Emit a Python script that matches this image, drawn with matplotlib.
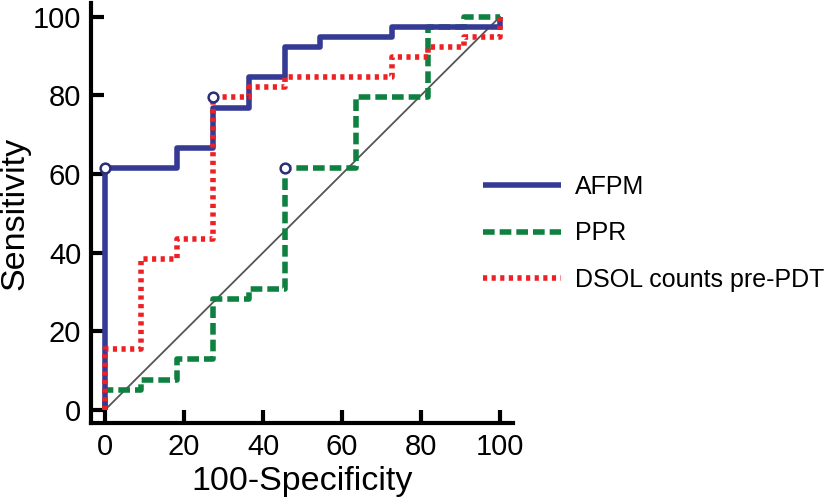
import matplotlib
matplotlib.use("Agg")
import matplotlib.pyplot as plt

plt.rcParams['font.family'] = ['Liberation Sans', 'DejaVu Sans']

# 100-Specificity (x) and Sensitivity (y) step points
afpm_x = [0, 0, 18.18, 18.18, 27.27, 27.27, 36.36, 36.36, 45.45, 45.45, 54.55, 54.55, 72.73, 72.73, 100, 100]
afpm_y = [0, 61.54, 61.54, 66.67, 66.67, 76.92, 76.92, 84.62, 84.62, 92.31, 92.31, 94.87, 94.87, 97.44, 97.44, 100]

ppr_x = [0, 0, 9.09, 9.09, 18.18, 18.18, 27.27, 27.27, 36.36, 36.36, 45.45, 45.45, 63.64, 63.64, 81.82, 81.82, 90.91, 90.91, 100]
ppr_y = [0, 5.13, 5.13, 7.69, 7.69, 12.82, 12.82, 28.21, 28.21, 30.77, 30.77, 61.54, 61.54, 79.49, 79.49, 97.44, 97.44, 100, 100]

dsol_x = [0, 0, 9.09, 9.09, 18.18, 18.18, 27.27, 27.27, 36.36, 36.36, 45.45, 45.45, 72.73, 72.73, 81.82, 81.82, 90.91, 90.91, 100, 100]
dsol_y = [0, 15.38, 15.38, 38.46, 38.46, 43.59, 43.59, 79.49, 79.49, 82.05, 82.05, 84.62, 84.62, 89.74, 89.74, 92.31, 92.31, 94.87, 94.87, 100]

# cut-off points (open circles)
cut_x = [0, 27.27, 45.45]
cut_y = [61.54, 79.49, 61.54]

ref_x = [0, 100]
ref_y = [0, 100]

ticks = [0, 20, 40, 60, 80, 100]
labels = ['AFPM', 'PPR', 'DSOL counts pre-PDT']

BLUE = '#353A94'
GREEN = '#0E8040'
RED = '#ED2024'
NAVY = '#2B2F7A'

fig = plt.figure(figsize=(8.26, 5.04), dpi=100)
ax = fig.add_axes([0.110, 0.161, 0.511, 0.833])

ax.plot(ref_x, ref_y, color='#555555', lw=1.3, zorder=1)
l1, = ax.plot(afpm_x, afpm_y, color=BLUE, lw=4.0, solid_capstyle='butt', zorder=3, label=labels[0])
l2, = ax.plot(ppr_x, ppr_y, color=GREEN, lw=4.0, dashes=(2.1, 0.9), dash_capstyle='butt', zorder=2, label=labels[1])
l3, = ax.plot(dsol_x, dsol_y, color=RED, lw=4.0, dashes=(0.75, 0.8), dash_capstyle='butt', zorder=4, label=labels[2])
ax.plot(cut_x, cut_y, linestyle='none', marker='o', ms=7.0, mfc='white', mec=NAVY, mew=1.8, zorder=5)

ax.set_xlim(-3.6, 103.3)
ax.set_ylim(-3.3, 103.5)
ax.set_xticks(ticks)
ax.set_yticks(ticks)
ax.tick_params(direction='in', length=9.5, width=3, labelsize=21, pad=7)

for s in ['top', 'right']:
    ax.spines[s].set_visible(False)
for s in ['left', 'bottom']:
    ax.spines[s].set_linewidth(3)

ax.set_xlabel('100-Specificity', fontsize=24.5, labelpad=4)
ax.set_ylabel('Sensitivity', fontsize=24.5, labelpad=2)

ax.legend(handles=[l1, l2, l3], loc='upper left', bbox_to_anchor=(0.570, 0.678),
          bbox_transform=fig.transFigure, frameon=False, fontsize=18,
          handlelength=3.1, handletextpad=0.55, labelspacing=0.9, borderpad=0)

fig.savefig('out.png', dpi=100)
